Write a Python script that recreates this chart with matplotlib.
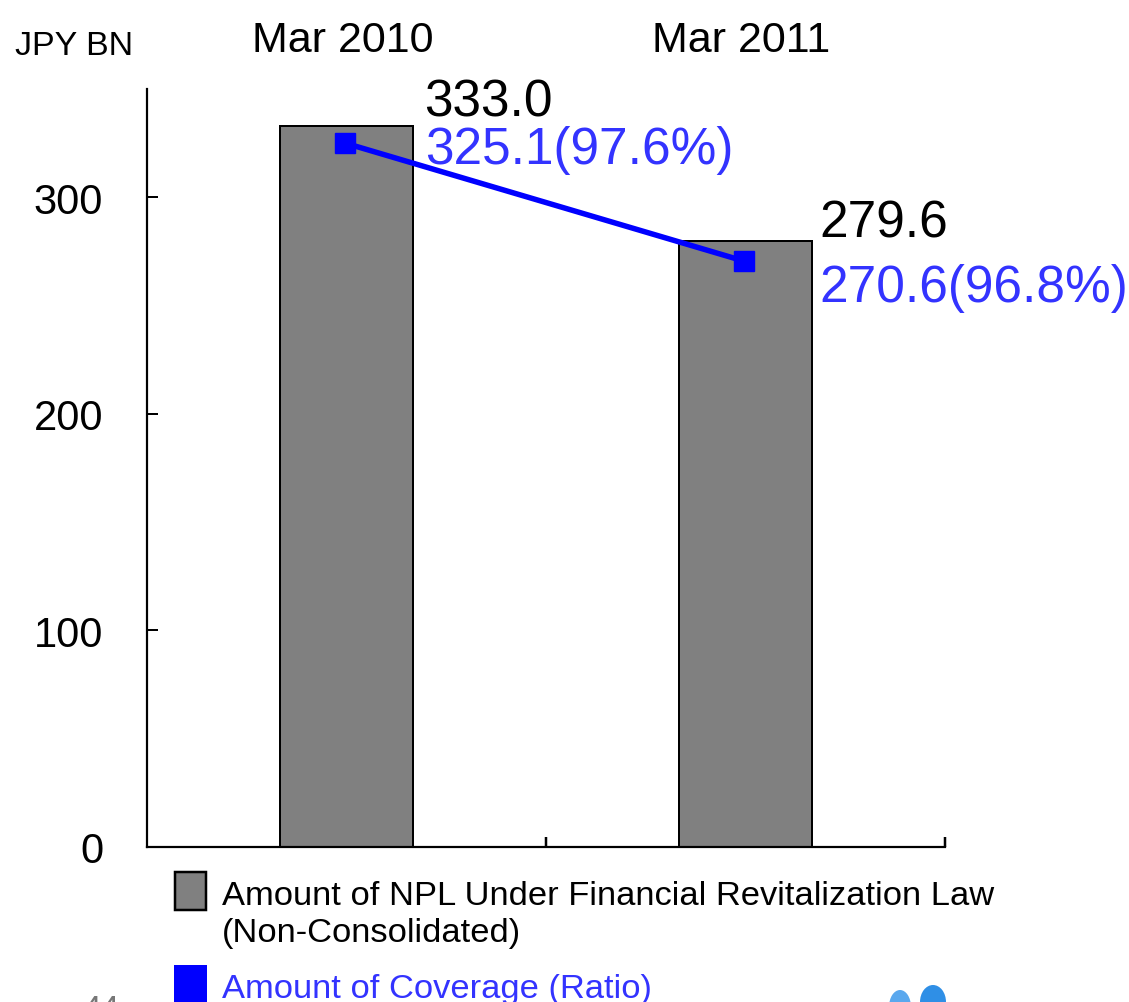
import matplotlib
matplotlib.use('Agg')
import matplotlib.pyplot as plt
from matplotlib.patches import Rectangle, Ellipse
import numpy as np

plt.rcParams['font.family'] = ['Liberation Sans', 'DejaVu Sans']

# NPL amounts and coverage, JPY BN
periods = ['Mar 2010', 'Mar 2011']
npl_amount = [333.0, 279.6]
coverage_amount = [325.1, 270.6]
coverage_ratio = [97.6, 96.8]

y_ticks = [0, 100, 200, 300]

W, H = 1129, 1003
fig = plt.figure(figsize=(W / 100, H / 100), dpi=100)
ax = fig.add_axes([147 / W, 1 - 848 / H, (945 - 147) / W, (848 - 90) / H])

px = 0.72  # points per pixel at dpi 100
x = np.arange(len(periods))
bar_w = 0.333

ax.bar(x, npl_amount, width=bar_w, color='#808080', edgecolor='black',
       linewidth=2 * px, zorder=2)
ax.plot(x - 0.005, coverage_amount, color='#0000ff', linewidth=5.5 * px,
        marker='s', markersize=20 * px, zorder=3)

ax.set_xlim(-0.5, 1.5)
ax.set_ylim(0, 350)

# axis styling
for side in ['top', 'right']:
    ax.spines[side].set_visible(False)
for side in ['left', 'bottom']:
    ax.spines[side].set_linewidth(2.2 * px)

ax.set_yticks(y_ticks)
ax.set_yticklabels([str(v) for v in y_ticks], fontsize=30)
ax.tick_params(axis='y', direction='in', length=11 * px, width=2 * px, pad=44 * px)
ax.set_xticks(x + 0.5)
ax.set_xticklabels([])
ax.tick_params(axis='x', direction='in', length=10 * px, width=2.5 * px)

# period labels above the plot
for i, p in enumerate(periods):
    ax.annotate(p, xy=(i, 1), xycoords=('data', 'axes fraction'),
                xytext=(-4 * px, 38 * px), textcoords='offset points',
                ha='center', va='baseline', fontsize=31)

fig.text(15 / W, 1 - 55 / H, 'JPY BN', fontsize=24.5, ha='left', va='baseline')

# value labels next to each bar
npl_off = [(11, 10), (7, 5)]
cov_off = [(12, -37), (7, -60)]
for i in range(len(periods)):
    ax.annotate(f'{npl_amount[i]:.1f}', xy=(x[i] + bar_w / 2, npl_amount[i]),
                xytext=(npl_off[i][0] * px, npl_off[i][1] * px),
                textcoords='offset points', ha='left', va='baseline',
                fontsize=37, color='black')
    ax.annotate(f'{coverage_amount[i]:.1f}({coverage_ratio[i]:.1f}%)',
                xy=(x[i] + bar_w / 2, npl_amount[i]),
                xytext=(cov_off[i][0] * px, cov_off[i][1] * px),
                textcoords='offset points', ha='left', va='baseline',
                fontsize=37, color='#3333ff')

# legend drawn by hand below the axis
fig.add_artist(Rectangle((175 / W, 1 - 911 / H), 31 / W, 38 / H,
                         facecolor='#808080', edgecolor='black', linewidth=2.5 * px,
                         transform=fig.transFigure))
fig.text(222 / W, 1 - 905 / H, 'Amount of NPL Under Financial Revitalization Law',
         fontsize=24.8, ha='left', va='baseline')
fig.text(222 / W, 1 - 942 / H, '(Non-Consolidated)',
         fontsize=24.8, ha='left', va='baseline')
fig.add_artist(Rectangle((174 / W, 1 - 1010 / H), 33 / W, 44 / H,
                         facecolor='#0000ff', edgecolor='none',
                         transform=fig.transFigure))
fig.text(222 / W, 1 - 998 / H, 'Amount of Coverage (Ratio)',
         fontsize=24.8, ha='left', va='baseline', color='#3333ff')

# page number and logo fragment at the bottom edge
fig.text(82 / W, 1 - 995 / H, '44', fontsize=24, ha='left', va='top', color='#777777')
fig.add_artist(Ellipse((900 / W, 1 - 1008 / H), 22 / W, 34 / H,
                       facecolor='#5aa8ee', edgecolor='none',
                       transform=fig.transFigure))
fig.add_artist(Ellipse((933 / W, 1 - 1003 / H), 26 / W, 34 / H,
                       facecolor='#2f8fe6', edgecolor='none',
                       transform=fig.transFigure))

fig.savefig('out.png', dpi=100)
